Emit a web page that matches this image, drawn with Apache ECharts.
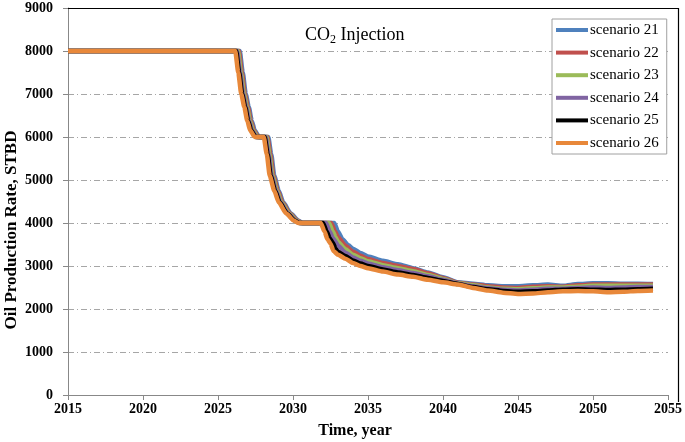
<!DOCTYPE html>
<html>
<head>
<meta charset="utf-8">
<script src="https://cdn.jsdelivr.net/npm/echarts@6/dist/echarts.min.js"></script>
<style>
html,body{margin:0;padding:0;background:#fff;}
#c{width:685px;height:442px;}
</style>
</head>
<body>
<div id="c"></div>
<script>
const seriesNames = ['scenario 21','scenario 22','scenario 23','scenario 24','scenario 25','scenario 26'];
const seriesColors = ['#4F81BD','#C0504D','#9BBB59','#8064A2','#000000','#E8883A'];
const xTicks = [2015,2020,2025,2030,2035,2040,2045,2050,2055];
const yTicks = [0,1000,2000,3000,4000,5000,6000,7000,8000,9000];

const s21 = [[2015,8000],[2026.45,8000],[2026.65,7500],[2026.85,7000],[2027.05,6700],[2027.25,6380],[2027.45,6150],[2027.75,6000],[2028.35,6000],[2028.55,5600],[2028.75,5100],[2029.05,4750],[2029.35,4480],[2029.85,4220],[2030.35,4060],[2030.65,4000],[2032.75,4000],[2033,3800],[2033.3,3620],[2033.7,3480],[2034,3400],[2034.5,3300],[2035,3220],[2036,3120],[2037,3040],[2038,2950],[2039,2850],[2040,2740],[2041,2620],[2042,2590],[2043,2550],[2044,2530],[2045,2530],[2046,2550],[2047,2570],[2048,2540],[2049,2580],[2050,2600],[2051,2600],[2052,2590],[2053,2590],[2054,2580]];
const s22 = [[2015,8000],[2026.39,8000],[2026.59,7500],[2026.79,7000],[2026.99,6700],[2027.19,6380],[2027.39,6150],[2027.69,6000],[2028.29,6000],[2028.49,5600],[2028.69,5100],[2028.99,4750],[2029.29,4480],[2029.79,4220],[2030.29,4060],[2030.59,4000],[2032.55,4000],[2032.8,3800],[2033,3670],[2033.5,3470],[2034,3330],[2034.5,3240],[2035,3160],[2036,3070],[2037,3000],[2038,2930],[2039,2830],[2040,2720],[2041,2610],[2042,2570],[2043,2530],[2044,2500],[2045,2490],[2046,2520],[2047,2530],[2048,2520],[2049,2550],[2050,2570],[2051,2570],[2052,2570],[2053,2570],[2054,2570]];
const s23 = [[2015,8000],[2026.33,8000],[2026.53,7500],[2026.73,7000],[2026.93,6700],[2027.13,6380],[2027.33,6150],[2027.63,6000],[2028.23,6000],[2028.43,5600],[2028.63,5100],[2028.93,4750],[2029.23,4480],[2029.73,4220],[2030.23,4060],[2030.53,4000],[2032.4,4000],[2032.65,3800],[2032.85,3660],[2033,3560],[2033.5,3390],[2034,3260],[2034.5,3180],[2035,3110],[2036,3020],[2037,2950],[2038,2880],[2039,2790],[2040,2700],[2041,2600],[2042,2550],[2043,2500],[2044,2470],[2045,2460],[2046,2480],[2047,2500],[2048,2500],[2049,2520],[2050,2540],[2051,2540],[2052,2540],[2053,2540],[2054,2540]];
const s24 = [[2015,8000],[2026.27,8000],[2026.47,7500],[2026.67,7000],[2026.87,6700],[2027.07,6380],[2027.27,6150],[2027.57,6000],[2028.17,6000],[2028.37,5600],[2028.57,5100],[2028.87,4750],[2029.17,4480],[2029.67,4220],[2030.17,4060],[2030.47,4000],[2032.2,4000],[2032.45,3800],[2032.65,3650],[2032.85,3560],[2033,3470],[2033.5,3310],[2034,3200],[2034.5,3120],[2035,3060],[2036,2970],[2037,2900],[2038,2840],[2039,2760],[2040,2680],[2041,2590],[2042,2530],[2043,2480],[2044,2450],[2045,2430],[2046,2450],[2047,2470],[2048,2470],[2049,2490],[2050,2500],[2051,2490],[2052,2500],[2053,2510],[2054,2510]];
const s25 = [[2015,8000],[2026.21,8000],[2026.41,7500],[2026.61,7000],[2026.81,6700],[2027.01,6380],[2027.21,6150],[2027.51,6000],[2028.11,6000],[2028.31,5600],[2028.51,5100],[2028.81,4750],[2029.11,4480],[2029.61,4220],[2030.11,4060],[2030.41,4000],[2032.0,4000],[2032.25,3800],[2032.45,3640],[2032.65,3540],[2032.85,3400],[2033,3330],[2033.5,3230],[2034,3130],[2034.5,3060],[2035,3000],[2036,2920],[2037,2850],[2038,2790],[2039,2720],[2040,2650],[2041,2580],[2042,2510],[2043,2460],[2044,2420],[2045,2400],[2046,2410],[2047,2430],[2048,2450],[2049,2460],[2050,2450],[2051,2440],[2052,2450],[2053,2460],[2054,2470]];
const s26 = [[2015,8000],[2026.15,8000],[2026.35,7500],[2026.55,7000],[2026.75,6700],[2026.95,6380],[2027.15,6150],[2027.45,6000],[2028.05,6000],[2028.25,5600],[2028.45,5100],[2028.75,4750],[2029.05,4480],[2029.55,4220],[2030.05,4060],[2030.35,4000],[2031.85,4000],[2032.1,3800],[2032.3,3620],[2032.5,3520],[2032.7,3350],[2033,3260],[2033.5,3170],[2034,3070],[2034.5,3000],[2035,2950],[2036,2870],[2037,2800],[2038,2750],[2039,2680],[2040,2620],[2041,2570],[2042,2490],[2043,2430],[2044,2380],[2045,2350],[2046,2360],[2047,2390],[2048,2410],[2049,2420],[2050,2410],[2051,2390],[2052,2400],[2053,2420],[2054,2430]];
const seriesData = [s21,s22,s23,s24,s25,s26];

const chart = echarts.init(document.getElementById('c'), null, {renderer:'canvas'});
const serif = '"Liberation Serif","Times New Roman",serif';
const gridDash = [6,3,1,3];

chart.setOption({
  animation:false,
  backgroundColor:'#fff',
  grid:{left:68,right:15,top:8,bottom:47,containLabel:false},
  xAxis:{
    type:'value',min:xTicks[0],max:xTicks[xTicks.length-1],interval:5,
    axisLine:{show:true,lineStyle:{color:'#888',width:1}},
    axisTick:{show:true,inside:false,length:5,lineStyle:{color:'#888'}},
    axisLabel:{margin:7,color:'#000',fontFamily:serif,fontWeight:'bold',fontSize:14,formatter:v=>String(v)},
    splitLine:{show:false}
  },
  yAxis:{
    type:'value',min:yTicks[0],max:yTicks[yTicks.length-1],interval:1000,
    axisLine:{show:true,lineStyle:{color:'#888',width:1}},
    axisTick:{show:true,inside:false,length:5,lineStyle:{color:'#888'}},
    axisLabel:{margin:15,color:'#000',fontFamily:serif,fontWeight:'bold',fontSize:14,formatter:v=>String(v)},
    splitLine:{show:true,lineStyle:{color:'#a6a6a6',width:1,type:gridDash}}
  },
  legend:{
    orient:'vertical',left:552,top:19,
    data:seriesNames,
    icon:'rect',itemWidth:32,itemHeight:4,itemGap:6.6,
    padding:[3,8,3,4],
    backgroundColor:'#fff',borderColor:'#a0a0a0',borderWidth:1,
    textStyle:{fontFamily:serif,fontSize:15,color:'#000',lineHeight:16,padding:[0,0,0,-3]}
  },
  graphic:[
    {type:'polyline',silent:true,z:100,shape:{points:[[68,8.5],[678.5,8.5],[678.5,402]]},style:{stroke:'#000',lineWidth:1.2,fill:null}},
    {type:'text',left:305,top:26,z:100,style:{
      rich:{a:{fontFamily:serif,fontSize:18,fill:'#000'},b:{fontFamily:serif,fontSize:12,fill:'#000',padding:[9,0,0,0]}},
      text:'{a|CO}{b|2}{a| Injection}'}},
    {type:'text',x:12,y:230,rotation:Math.PI/2,z:100,style:{
      text:'Oil Production Rate, STBD',fontFamily:serif,fontWeight:'bold',fontSize:17,fill:'#000',align:'center',verticalAlign:'middle'}},
    {type:'text',x:355,y:431,z:100,style:{
      text:'Time, year',fontFamily:serif,fontWeight:'bold',fontSize:16,fill:'#000',align:'center',verticalAlign:'middle'}}
  ],
  series: seriesNames.map((n,i)=>({
    name:n,type:'line',data:seriesData[i],
    showSymbol:false,symbol:'none',smooth:0.2,smoothMonotone:'x',
    lineStyle:{color:seriesColors[i],width:4.5},
    itemStyle:{color:seriesColors[i]},
    z:2+i
  }))
});
</script>
</body>
</html>
